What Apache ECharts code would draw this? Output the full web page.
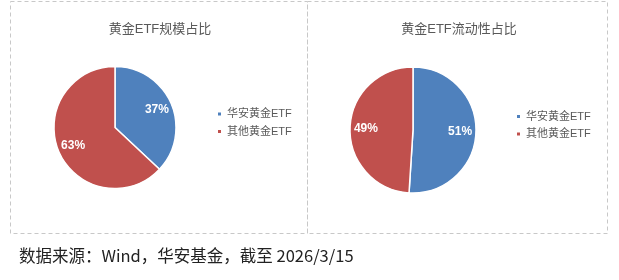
<!DOCTYPE html>
<html><head><meta charset="utf-8">
<script src="https://cdn.jsdelivr.net/npm/echarts@6/dist/echarts.min.js"></script>
<style>html,body{margin:0;padding:0;background:#fff}#c{width:619px;height:280px}</style>
</head><body><div id="c"></div>
<script>
const categories = ['华安黄金ETF', '其他黄金ETF'];
const scaleValues = [37, 63];
const liquidityValues = [51, 49];
const chartTitles = ['黄金ETF规模占比', '黄金ETF流动性占比'];
const sourceNote = '数据来源：Wind，华安基金，截至 2026/3/15';
const colors = ['#4F81BD', '#C0504D'];

const chart = echarts.init(document.getElementById('c'), null, {renderer: 'canvas'});
const font = '"Liberation Sans", Arial, "Noto Sans CJK SC", sans-serif';
function toData(vals) { return categories.map((n, i) => ({name: n, value: vals[i]})); }
function pies(vals, center, r) {
  return [
    {
      type: 'pie', center: center, radius: [0, r], startAngle: 90, clockwise: true,
      data: toData(vals), color: colors,
      itemStyle: {borderColor: '#fff', borderWidth: 1.5},
      label: {show: false}, labelLine: {show: false}, emphasis: {disabled: true}, silent: true
    },
    {
      type: 'pie', center: center, radius: [r * 0.4, r], startAngle: 90, clockwise: true,
      data: toData(vals), color: ['rgba(0,0,0,0)', 'rgba(0,0,0,0)'],
      itemStyle: {color: 'rgba(0,0,0,0)', borderWidth: 0},
      legendHoverLink: false,
      label: {show: true, position: 'inside', formatter: '{c}%', color: '#fff', fontWeight: 'bold', fontSize: 12, fontFamily: font},
      labelLine: {show: false}, emphasis: {disabled: true}, silent: true
    }
  ];
}
const legendCommon = {
  orient: 'vertical', icon: 'rect', itemWidth: 5, itemHeight: 5, itemGap: 6.5, padding: 0,
  textStyle: {color: '#595959', fontSize: 11, fontFamily: font},
  data: categories, selectedMode: false
};
chart.setOption({
  animation: false,
  color: colors,
  title: [
    {text: chartTitles[0], left: 160, top: 22.5, padding: 0, textAlign: 'center', textStyle: {color: '#595959', fontSize: 13, fontWeight: 'normal', fontFamily: font}},
    {text: chartTitles[1], left: 459, top: 22.5, padding: 0, textAlign: 'center', textStyle: {color: '#595959', fontSize: 13, fontWeight: 'normal', fontFamily: font}},
    {text: sourceNote, left: 19, top: 247.5, padding: 0, textStyle: {color: '#222', fontSize: 16.5, fontWeight: 'normal', fontFamily: '"Noto Sans CJK SC", sans-serif'}}
  ],
  legend: [
    Object.assign({left: 216, top: 108.5}, legendCommon),
    Object.assign({left: 515, top: 111}, legendCommon)
  ],
  graphic: [
    {type: 'rect', shape: {x: 10.5, y: 1.5, width: 297, height: 232}, style: {fill: 'none', stroke: '#c8c8c8', lineWidth: 1, lineDash: [4, 3]}, silent: true},
    {type: 'rect', shape: {x: 307.5, y: 1.5, width: 300, height: 232}, style: {fill: 'none', stroke: '#c8c8c8', lineWidth: 1, lineDash: [4, 3]}, silent: true}
  ],
  series: [].concat(pies(scaleValues, [115, 127.5], 61), pies(liquidityValues, [413, 130], 63))
});
</script></body></html>
